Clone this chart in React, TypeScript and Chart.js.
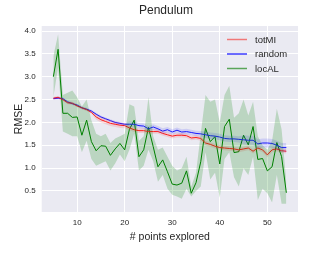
import React, { useEffect, useRef } from "react";
import { Chart, registerables } from "chart.js";
Chart.register(...registerables);

const pointsExplored = [5,6,7,8,9,10,11,12,13,14,15,16,17,18,19,20,21,22,23,24,25,26,27,28,29,30,31,32,33,34,35,36,37,38,39,40,41,42,43,44,45,46,47,48,49,50,51,52,53,54];

const totMI = [2.53,2.55,2.5,2.43,2.42,2.36,2.32,2.28,2.22,2.12,2.06,2.02,1.98,1.96,1.94,1.93,1.88,1.84,1.82,1.82,1.8,1.8,1.8,1.76,1.73,1.7,1.72,1.72,1.71,1.66,1.67,1.65,1.55,1.52,1.48,1.45,1.44,1.43,1.42,1.4,1.42,1.44,1.37,1.44,1.4,1.29,1.4,1.42,1.38,1.37];
const totMIHalf = [0.03,0.03,0.03,0.03,0.03,0.03,0.03,0.03,0.03,0.06,0.06,0.06,0.06,0.06,0.06,0.06,0.05,0.05,0.05,0.05,0.05,0.05,0.05,0.05,0.05,0.05,0.05,0.05,0.05,0.05,0.05,0.05,0.05,0.05,0.05,0.05,0.05,0.05,0.05,0.05,0.05,0.05,0.05,0.05,0.05,0.05,0.05,0.05,0.05,0.05];

const random = [2.52,2.53,2.52,2.45,2.41,2.38,2.32,2.29,2.25,2.18,2.12,2.08,2.04,2.0,1.98,1.96,1.96,1.96,1.93,1.92,1.86,1.9,1.86,1.81,1.84,1.79,1.83,1.79,1.8,1.78,1.76,1.75,1.73,1.71,1.7,1.68,1.65,1.64,1.64,1.63,1.62,1.61,1.61,1.53,1.55,1.55,1.54,1.5,1.45,1.45];
const randomHalf = [0.03,0.03,0.03,0.03,0.03,0.03,0.03,0.03,0.03,0.03,0.03,0.03,0.03,0.03,0.03,0.03,0.06,0.06,0.06,0.06,0.06,0.06,0.06,0.06,0.06,0.06,0.06,0.06,0.06,0.06,0.06,0.06,0.07,0.07,0.07,0.07,0.07,0.07,0.07,0.07,0.1,0.1,0.1,0.1,0.1,0.1,0.1,0.1,0.1,0.1];

const locAL = [3.0,3.6,2.2,2.2,2.11,2.12,1.72,2.05,1.58,1.38,1.49,1.48,1.28,1.42,1.54,1.4,1.85,2.05,1.25,1.4,1.89,1.47,1.03,1.18,0.92,0.65,0.63,0.67,0.94,0.45,0.68,1.14,1.87,1.58,1.69,1.09,1.91,2.07,1.34,1.36,1.72,1.51,1.91,1.19,1.21,0.94,1.03,1.56,1.25,0.46];
const locALUpper = [3.45,3.93,2.6,2.65,2.7,2.55,2.35,2.5,2.05,1.75,1.7,1.75,1.55,1.65,1.7,1.75,2.4,2.35,1.6,1.7,2.55,1.7,1.4,1.45,1.25,1.05,0.95,1.0,1.25,0.6,0.9,1.75,2.6,2.45,2.5,2.0,2.6,2.8,2.1,2.2,2.5,2.15,2.45,1.7,1.5,1.4,1.6,2.3,1.85,0.7];
const locALLower = [2.55,3.2,1.8,1.75,1.7,1.7,1.35,1.6,1.2,1.05,1.1,1.15,0.95,1.1,1.3,1.15,1.4,1.75,0.95,1.05,1.4,1.15,0.7,0.85,0.55,0.42,0.38,0.33,0.55,0.38,0.5,0.6,1.35,0.75,0.9,0.35,1.2,1.35,0.8,0.6,1.0,0.85,1.25,0.3,0.55,0.45,0.25,0.85,0.22,0.22];

const xTicks = [10, 20, 30, 40, 50];
const yTicks = [0.5, 1.0, 1.5, 2.0, 2.5, 3.0, 3.5, 4.0];

const FONT = "'Liberation Sans', Arial, sans-serif";

const pts = (ys: number[]) => ys.map((y, i) => ({ x: pointsExplored[i], y }));

const decorPlugin = {
  id: "decor",
  beforeDraw(chart: any) {
    const { ctx, chartArea: a } = chart;
    ctx.save();
    ctx.fillStyle = "#ffffff";
    ctx.fillRect(0, 0, chart.width, chart.height);
    ctx.fillStyle = "#EAEAF2";
    ctx.fillRect(a.left, a.top, a.right - a.left, a.bottom - a.top);
    ctx.restore();
  },
  afterDraw(chart: any) {
    const { ctx, chartArea: a } = chart;
    ctx.save();
    ctx.fillStyle = "#262626";
    ctx.textAlign = "center";
    ctx.textBaseline = "alphabetic";
    ctx.font = `12px ${FONT}`;
    ctx.fillText("Pendulum", 166, 14);
    ctx.font = `10.5px ${FONT}`;
    ctx.fillText("# points explored", (a.left + a.right) / 2, 240);
    ctx.save();
    ctx.translate(21.5, (a.top + a.bottom) / 2);
    ctx.rotate(-Math.PI / 2);
    ctx.font = `10.5px ${FONT}`;
    ctx.fillText("RMSE", 0, 0);
    ctx.restore();
    const items = [
      { label: "totMI", color: "rgba(240,120,120,1)" },
      { label: "random", color: "rgba(60,60,255,1)" },
      { label: "locAL", color: "rgba(90,165,90,1)" },
    ];
    ctx.textAlign = "left";
    ctx.textBaseline = "middle";
    ctx.font = `9.5px ${FONT}`;
    items.forEach((it, i) => {
      const y = 39.5 + i * 14.5;
      ctx.strokeStyle = it.color;
      ctx.lineWidth = 1.5;
      ctx.beginPath();
      ctx.moveTo(227, y);
      ctx.lineTo(247, y);
      ctx.stroke();
      ctx.fillStyle = "#262626";
      ctx.fillText(it.label, 255, y + 0.5);
    });
    ctx.restore();
  },
};

export default function App() {
  const ref = useRef<HTMLCanvasElement>(null);
  useEffect(() => {
    document.body.style.margin = "0";
    const canvas = ref.current!;
    const bandCommon = { pointRadius: 0, borderWidth: 0, tension: 0 };
    const chart = new Chart(canvas, {
      type: "line",
      data: {
        datasets: [
          { ...bandCommon, data: pts(locALUpper), fill: "+1", backgroundColor: "rgba(0,128,0,0.2)", borderColor: "rgba(0,0,0,0)" },
          { ...bandCommon, data: pts(locALLower), fill: false, borderColor: "rgba(0,0,0,0)" },
          { ...bandCommon, data: pts(totMI.map((v, i) => v + totMIHalf[i])), fill: "+1", backgroundColor: "rgba(255,0,0,0.12)", borderColor: "rgba(0,0,0,0)" },
          { ...bandCommon, data: pts(totMI.map((v, i) => v - totMIHalf[i])), fill: false, borderColor: "rgba(0,0,0,0)" },
          { ...bandCommon, data: pts(random.map((v, i) => v + randomHalf[i])), fill: "+1", backgroundColor: "rgba(0,0,255,0.12)", borderColor: "rgba(0,0,0,0)" },
          { ...bandCommon, data: pts(random.map((v, i) => v - randomHalf[i])), fill: false, borderColor: "rgba(0,0,0,0)" },
          { label: "totMI", data: pts(totMI), borderColor: "#ff2020", borderWidth: 1, pointRadius: 0, fill: false },
          { label: "random", data: pts(random), borderColor: "#2020ff", borderWidth: 1, pointRadius: 0, fill: false },
          { label: "locAL", data: pts(locAL), borderColor: "#008000", borderWidth: 1, pointRadius: 0, fill: false },
        ],
      },
      options: {
        animation: false,
        responsive: false,
        maintainAspectRatio: false,
        devicePixelRatio: 1,
        layout: { padding: { top: 26, right: 34, left: 0, bottom: 0 } },
        plugins: { legend: { display: false }, title: { display: false }, tooltip: { enabled: false } },
        scales: {
          x: {
            type: "linear",
            min: 2.55,
            max: 56.45,
            afterBuildTicks: (s: any) => { s.ticks = xTicks.map((v) => ({ value: v })); },
            afterFit: (s: any) => { s.height = 47; },
            grid: { color: "#ffffff", lineWidth: 1, drawTicks: false },
            border: { display: false },
            ticks: { color: "#262626", font: { family: FONT, size: 8 }, padding: 6, maxRotation: 0, autoSkip: false },
          },
          y: {
            type: "linear",
            min: 0.04,
            max: 4.11,
            afterBuildTicks: (s: any) => { s.ticks = yTicks.map((v) => ({ value: v })); },
            afterFit: (s: any) => { s.width = 41.7; },
            grid: { color: "#ffffff", lineWidth: 1, drawTicks: false },
            border: { display: false },
            ticks: { color: "#262626", font: { family: FONT, size: 8 }, padding: 6, autoSkip: false, callback: (v: any) => Number(v).toFixed(1) },
          },
        },
      },
      plugins: [decorPlugin],
    } as any);
    return () => chart.destroy();
  }, []);
  return <canvas ref={ref} width={332} height={259} style={{ display: "block", width: 332, height: 259 }} />;
}
